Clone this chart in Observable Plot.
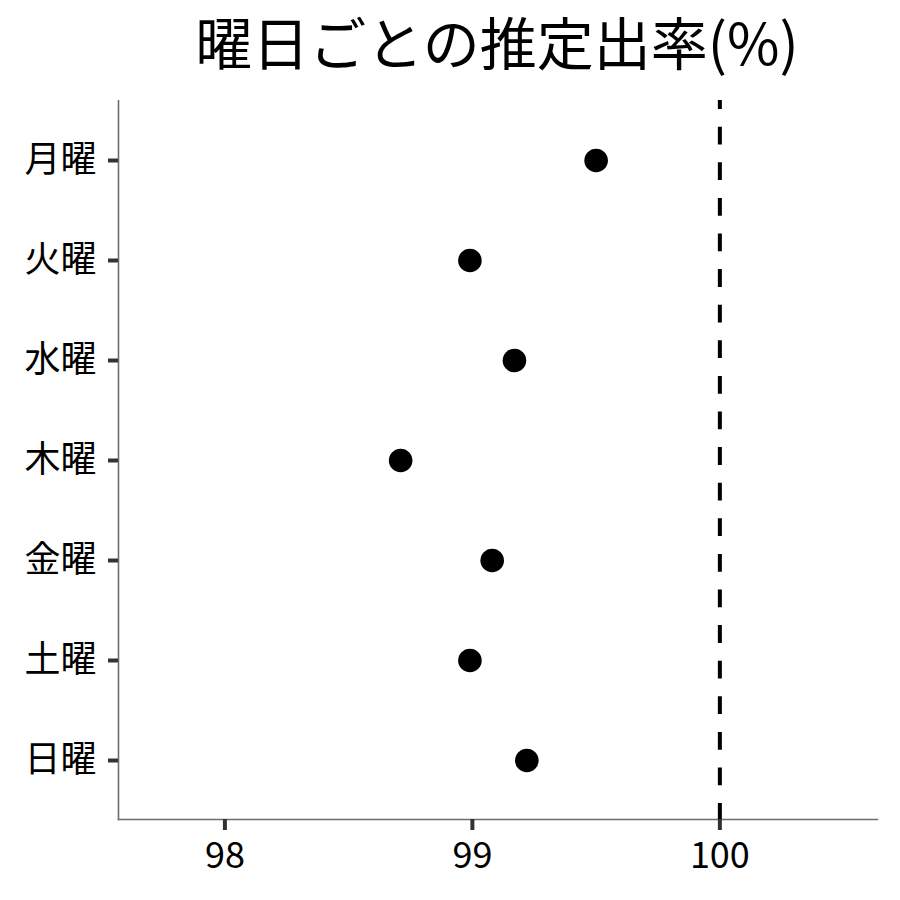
<!DOCTYPE html>
<html>
<head>
<meta charset="utf-8">
<script src="https://cdn.jsdelivr.net/npm/d3@7"></script>
<script src="https://cdn.jsdelivr.net/npm/@observablehq/plot@0.6"></script>
<style>
  html, body { margin: 0; padding: 0; background: #fff; }
  #title {
    width: 900px; height: 100px; box-sizing: border-box;
    padding-left: 94px; text-align: center;
    font-family: 'Noto Sans CJK JP', 'Noto Sans', sans-serif;
    font-size: 57px; line-height: 80px; color: #000; white-space: nowrap;
  }
  #chart svg { display: block; }
  #chart g[aria-label*="tick"] path,
  #chart g[aria-label*="tick"] line { stroke-width: 4px !important; stroke: #333 !important; }
</style>
</head>
<body>
<div id="title"></div>
<div id="chart"></div>
<script>
const title = "曜日ごとの推定出率(%)";
const days = ["月曜", "火曜", "水曜", "木曜", "金曜", "土曜", "日曜"];
const rates = [99.50, 98.99, 99.17, 98.71, 99.08, 98.99, 99.22];
const xTicks = [98, 99, 100];
const xDomain = [97.57, 100.637];
const refLine = [100];

const data = days.map((d, i) => ({day: d, rate: rates[i]}));
const font = "'Noto Sans CJK JP', 'Noto Sans', sans-serif";

document.getElementById("title").textContent = title;

const chart = Plot.plot({
  width: 900,
  height: 800,
  marginLeft: 118,
  marginRight: 23,
  marginTop: 0,
  marginBottom: 81,
  style: {fontFamily: font, background: "#fff", color: "#000"},
  x: {domain: xDomain, ticks: xTicks},
  y: {domain: days, type: "point", padding: 0.595},
  marks: [
    Plot.frame({anchor: "left", stroke: "#6e6e6e", strokeWidth: 1.6}),
    Plot.frame({anchor: "bottom", stroke: "#6e6e6e", strokeWidth: 1.6}),
    Plot.axisY({
      tickSize: 10, tickPadding: 12, stroke: "#333", strokeWidth: 4,
      fontSize: 36, fill: "#000", label: null
    }),
    Plot.axisX({
      ticks: xTicks, tickFormat: d => String(d), tickSize: 11, tickPadding: 12,
      stroke: "#333", strokeWidth: 4, fontSize: 36, fill: "#000", label: null
    }),
    Plot.ruleX(refLine, {
      stroke: "#000", strokeWidth: 4,
      strokeDasharray: "17.8,17.8", strokeDashoffset: 8.9
    }),
    Plot.dot(data, {x: "rate", y: "day", r: 11.8, fill: "#000", stroke: "none"})
  ]
});
document.getElementById("chart").appendChild(chart);
</script>
</body>
</html>
